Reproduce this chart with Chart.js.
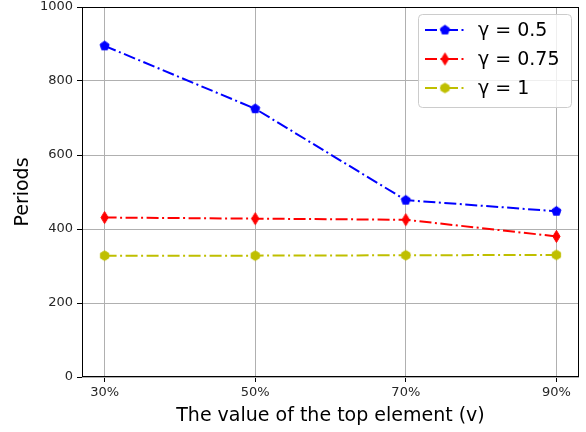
<!DOCTYPE html>
<html><head><meta charset="utf-8">
<script src="https://cdn.jsdelivr.net/npm/chart.js@4"></script>
<style>html,body{margin:0;padding:0;background:#fff}#wrap{width:586px;height:432px}</style>
</head><body><div id="wrap"><canvas id="c" width="586" height="432"></canvas></div>
<script>
const categories = ['30%', '50%', '70%', '90%'];
const seriesLabels = ['γ = 0.5', 'γ = 0.75', 'γ = 1'];
const gamma05 = [895, 725, 478, 448];
const gamma075 = [431, 428, 425, 380];
const gamma1 = [328, 328, 329, 330];
const yTicks = [0, 200, 400, 600, 800, 1000];
const xTitle = 'The value of the top element (v)';
const yTitle = 'Periods';

const FONT = "'DejaVu Sans', sans-serif";
const DASH = [12, 3.5, 2, 3.5];

function polyMarker(color, sides, r, rot) {
  const s = Math.ceil(2 * r + 3);
  const c = document.createElement('canvas');
  c.width = s; c.height = s;
  const g = c.getContext('2d');
  g.beginPath();
  for (let i = 0; i < sides; i++) {
    const a = rot + i * 2 * Math.PI / sides;
    const x = s / 2 + r * Math.cos(a), y = s / 2 + r * Math.sin(a);
    if (i === 0) g.moveTo(x, y); else g.lineTo(x, y);
  }
  g.closePath();
  g.fillStyle = color; g.fill();
  g.strokeStyle = color; g.lineWidth = 1; g.stroke();
  return c;
}
function diamondMarker(color, hw, hh) {
  const w = Math.ceil(2 * hw + 3), h = Math.ceil(2 * hh + 3);
  const c = document.createElement('canvas');
  c.width = w; c.height = h;
  const g = c.getContext('2d');
  g.beginPath();
  g.moveTo(w / 2, h / 2 - hh); g.lineTo(w / 2 + hw, h / 2);
  g.lineTo(w / 2, h / 2 + hh); g.lineTo(w / 2 - hw, h / 2);
  g.closePath();
  g.fillStyle = color; g.fill();
  g.strokeStyle = color; g.lineWidth = 1; g.stroke();
  return c;
}

const markers = [
  polyMarker('#0000ff', 5, 4.8, -Math.PI / 2),
  diamondMarker('#ff0000', 3.6, 6),
  polyMarker('#bfbf00', 6, 4.8, -Math.PI / 2)
];
const colors = ['#0000ff', '#ff0000', '#bfbf00'];
const seriesValues = [gamma05, gamma075, gamma1];

const datasets = seriesValues.map((vals, k) => ({
  label: seriesLabels[k],
  data: vals.map((v, i) => ({ x: i, y: v })),
  borderColor: colors[k],
  backgroundColor: colors[k],
  borderWidth: 2,
  borderDash: DASH,
  pointStyle: markers[k],
  pointRadius: 5,
  tension: 0,
  fill: false
}));

const framePlugin = {
  id: 'frame',
  afterDatasetsDraw(chart) {
    const { ctx, chartArea: a } = chart;
    ctx.save();
    ctx.strokeStyle = '#000'; ctx.lineWidth = 1;
    ctx.strokeRect(Math.round(a.left) + 0.5, Math.round(a.top) + 0.5,
      Math.round(a.right - a.left) - 1, Math.round(a.bottom - a.top) - 1);
    ctx.restore();
  }
};

const legendPlugin = {
  id: 'mplLegend',
  afterDraw(chart) {
    const ctx = chart.ctx;
    const bx = 418.5, by = 14.5, bw = 153, bh = 93;
    ctx.save();
    ctx.beginPath();
    ctx.roundRect(bx, by, bw, bh, 4);
    ctx.fillStyle = 'rgba(255,255,255,0.8)'; ctx.fill();
    ctx.strokeStyle = '#cccccc'; ctx.lineWidth = 1; ctx.stroke();
    const ys = [30, 59, 88];
    chart.data.datasets.forEach((ds, k) => {
      const y = ys[k];
      ctx.beginPath();
      ctx.setLineDash(DASH);
      ctx.strokeStyle = ds.borderColor; ctx.lineWidth = 2;
      ctx.moveTo(425, y); ctx.lineTo(465, y); ctx.stroke();
      ctx.setLineDash([]);
      const m = ds.pointStyle;
      ctx.drawImage(m, 445 - m.width / 2, y - m.height / 2);
      ctx.fillStyle = '#000';
      ctx.font = '19px ' + FONT;
      ctx.textBaseline = 'middle';
      ctx.textAlign = 'left';
      ctx.fillText(ds.label, 478, y + 1);
    });
    ctx.restore();
  }
};

new Chart(document.getElementById('c'), {
  type: 'line',
  data: { datasets },
  options: {
    responsive: false,
    animation: false,
    layout: { padding: { top: 6, right: 5, left: 0, bottom: 0 } },
    plugins: { legend: { display: false }, tooltip: { enabled: false } },
    scales: {
      x: {
        type: 'linear', min: -0.15, max: 3.15,
        afterBuildTicks: s => { s.ticks = categories.map((c, i) => ({ value: i })); },
        afterFit: s => { s.height = 55; s.paddingLeft = 0; s.paddingRight = 0; },
        ticks: {
          callback: v => categories[Math.round(v)] ?? '',
          font: { family: FONT, size: 13 }, color: '#262626', padding: 3, maxRotation: 0, autoSkip: false
        },
        grid: { color: '#b0b0b0', lineWidth: 1, tickLength: 5, tickColor: '#000' },
        border: { display: false },
        title: { display: true, text: xTitle, font: { family: FONT, size: 19 }, color: '#000', padding: { top: 5, bottom: 5 } }
      },
      y: {
        min: 0, max: 1000,
        afterBuildTicks: s => { s.ticks = yTicks.map(v => ({ value: v })); },
        afterFit: s => { s.width = 82; s.paddingTop = 0; s.paddingBottom = 0; },
        ticks: { callback: v => String(v), font: { family: FONT, size: 13 }, color: '#262626', padding: 4 },
        grid: { color: '#b0b0b0', lineWidth: 1, tickLength: 5, tickColor: '#000' },
        border: { display: false },
        title: { display: true, text: yTitle, font: { family: FONT, size: 19 }, color: '#000', padding: { top: 12, bottom: 12 } }
      }
    }
  },
  plugins: [framePlugin, legendPlugin]
});
</script>
</body></html>
